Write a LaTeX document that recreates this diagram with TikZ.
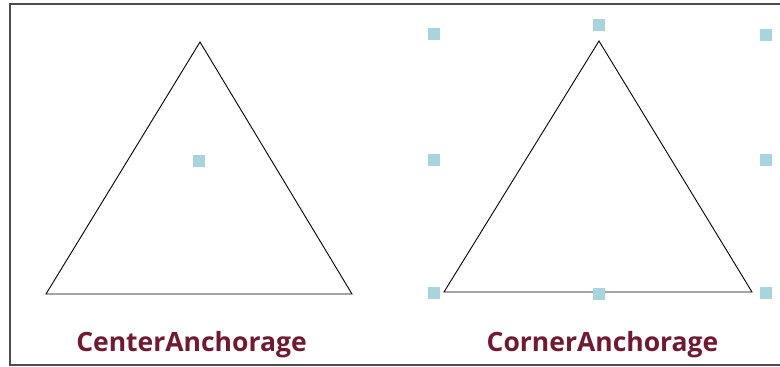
\documentclass[tikz,border=0pt]{standalone}
\usepackage{fontspec}
\setmainfont{Open Sans}
\definecolor{handleblue}{RGB}{168,212,222}
\definecolor{captionred}{RGB}{112,26,50}

\begin{document}
\begin{tikzpicture}[x=1pt, y=-1pt,
                    handle/.style={rectangle, fill=handleblue, draw=none, minimum size=12pt, inner sep=0pt},
                    caption/.style={text=captionred, font=\bfseries\fontsize{26.5}{30}\selectfont, inner sep=0pt, anchor=base},
                    tri/.style={draw=black, line width=0.9pt},
                    frame/.style={draw=black!70, line width=2pt}
                ]
                \useasboundingbox (0,0) rectangle (780,367);

                % Cadre
                \coordinate (fr1) at (780,3.5);
                \coordinate (fr2) at (9.5,3.5);
                \coordinate (fr3) at (9.5,364.5);
                \coordinate (fr4) at (780,364.5);
                \draw[frame] (fr1) -- (fr2) -- (fr3) -- (fr4);

                % Triangle de gauche
                \coordinate (la) at (200,42);
                \coordinate (lb) at (46,294);
                \coordinate (lc) at (352,294);
                \draw[tri] (la) -- (lb) -- (lc) -- cycle;
                \node[handle] (lcenter) at (199,161) {};
                \node[caption] (lcap) at (191.5,351) {CenterAnchorage};

                % Triangle de droite
                \coordinate (ra) at (599,41);
                \coordinate (rb) at (444,292);
                \coordinate (rc) at (752,292);
                \draw[tri] (ra) -- (rb) -- (rc) -- cycle;
                \node[handle] (rnw) at (434,34) {};
                \node[handle] (rn)  at (599,25) {};
                \node[handle] (rne) at (766,35) {};
                \node[handle] (rw)  at (434,160) {};
                \node[handle] (re)  at (766,160) {};
                \node[handle] (rsw) at (434,293) {};
                \node[handle] (rs)  at (599,294) {};
                \node[handle] (rse) at (766,293) {};
                \node[caption] (rcap) at (602.5,351) {CornerAnchorage};

\end{tikzpicture}
\end{document}
